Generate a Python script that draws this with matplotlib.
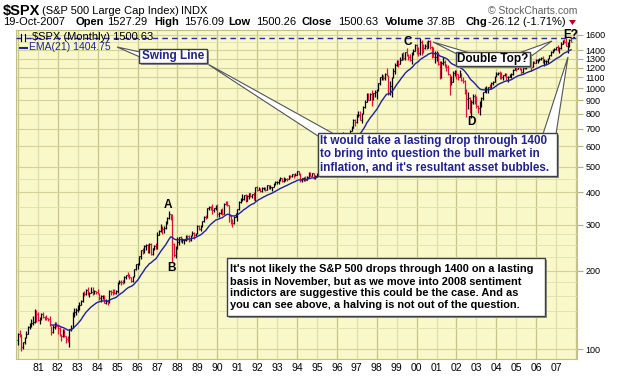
## ############################################################################################# ##
## $SPX monthly bar chart with EMA(21) and callouts
## ############################################################################################# ##
import numpy                   as     np
import matplotlib
matplotlib.use('Agg')
import matplotlib.pyplot       as     plt
from   matplotlib.patches      import Rectangle, Polygon
from   matplotlib.lines        import Line2D

plt.rcParams['font.family'] = ['Liberation Sans', 'DejaVu Sans']

## ********************************************************************************************* ##
## Data (monthly, Jan 1980 .. Oct 2007)
## ********************************************************************************************* ##
first_open     = 107.94
closes         = [
    114.16, 113.66, 102.09, 106.29, 111.24, 114.24, 121.67, 122.38, 125.46, 127.47, 140.52, 135.76,   # 1980
    129.55, 131.27, 136.00, 132.81, 132.59, 131.21, 130.92, 122.79, 116.18, 121.89, 126.35, 122.55,   # 1981
    120.40, 113.11, 111.96, 116.44, 111.88, 109.61, 107.09, 119.51, 120.42, 133.71, 138.54, 140.64,   # 1982
    145.30, 148.06, 152.96, 164.42, 162.39, 168.11, 162.56, 164.40, 166.07, 163.55, 166.40, 164.93,   # 1983
    163.41, 157.06, 159.18, 160.05, 150.55, 153.18, 150.66, 166.68, 166.10, 166.09, 163.58, 167.24,   # 1984
    179.63, 181.18, 180.66, 179.83, 189.55, 191.85, 190.92, 188.63, 182.08, 189.82, 202.17, 211.28,   # 1985
    211.78, 226.92, 238.90, 235.52, 247.35, 250.84, 236.12, 252.93, 231.32, 243.98, 249.22, 242.17,   # 1986
    274.08, 284.20, 291.70, 288.36, 290.10, 304.00, 318.66, 329.80, 321.83, 251.79, 230.30, 247.08,   # 1987
    257.07, 267.82, 258.89, 261.33, 262.16, 273.50, 272.02, 261.52, 271.91, 278.97, 273.70, 277.72,   # 1988
    297.47, 288.86, 294.87, 309.64, 320.52, 317.98, 346.08, 351.45, 349.15, 340.36, 345.99, 353.40,   # 1989
    329.08, 331.89, 339.94, 330.80, 361.23, 358.02, 356.15, 322.56, 306.05, 304.00, 322.22, 330.22,   # 1990
    343.93, 367.07, 375.22, 375.35, 389.83, 371.16, 387.81, 395.43, 387.86, 392.46, 375.22, 417.09,   # 1991
    408.79, 412.70, 403.69, 414.95, 415.35, 408.14, 424.21, 414.03, 417.80, 418.68, 431.35, 435.71,   # 1992
    438.78, 443.38, 451.67, 440.19, 450.19, 450.53, 448.13, 463.56, 458.93, 467.83, 461.79, 466.45,   # 1993
    481.61, 467.14, 445.77, 450.91, 456.50, 444.27, 458.26, 475.49, 462.69, 472.35, 453.69, 459.27,   # 1994
    470.42, 487.39, 500.71, 514.71, 533.40, 544.75, 562.06, 561.88, 584.41, 581.50, 605.37, 615.93,   # 1995
    636.02, 640.43, 645.50, 654.17, 669.12, 670.63, 639.95, 651.99, 687.33, 705.27, 757.02, 740.74,   # 1996
    786.16, 790.82, 757.12, 801.34, 848.28, 885.14, 954.29, 899.47, 947.28, 914.62, 955.40, 970.43,   # 1997
    980.28, 1049.34, 1101.75, 1111.75, 1090.82, 1133.84, 1120.67, 957.28, 1017.01, 1098.67, 1163.63, 1229.23,   # 1998
    1279.64, 1238.33, 1286.37, 1335.18, 1301.84, 1372.71, 1328.72, 1320.41, 1282.71, 1362.93, 1388.91, 1469.25, # 1999
    1394.46, 1366.42, 1498.58, 1452.43, 1420.60, 1454.60, 1430.83, 1517.68, 1436.51, 1429.40, 1314.95, 1320.28, # 2000
    1366.01, 1239.94, 1160.33, 1249.46, 1255.82, 1224.42, 1211.23, 1133.58, 1040.94, 1059.78, 1139.45, 1148.08, # 2001
    1130.20, 1106.73, 1147.39, 1076.92, 1067.14, 989.82, 911.62, 916.07, 815.28, 885.76, 936.31, 879.82,        # 2002
    855.70, 841.15, 848.18, 916.92, 963.59, 974.50, 990.31, 1008.01, 995.97, 1050.71, 1058.20, 1111.92,         # 2003
    1131.13, 1144.94, 1126.21, 1107.30, 1120.68, 1140.84, 1101.72, 1104.24, 1114.58, 1130.20, 1173.82, 1211.92, # 2004
    1181.27, 1203.60, 1180.59, 1156.85, 1191.50, 1191.33, 1234.18, 1220.33, 1228.81, 1207.01, 1249.48, 1248.29, # 2005
    1280.08, 1280.66, 1294.83, 1310.61, 1270.09, 1270.20, 1276.66, 1303.82, 1335.85, 1377.94, 1400.63, 1418.30, # 2006
    1438.24, 1406.82, 1420.86, 1482.37, 1530.62, 1503.35, 1455.27, 1473.99, 1526.75, 1500.63]                   # 2007
highs          = [
    115.2, 118.4, 114.3, 106.5, 111.6, 117.2, 122.4, 126.0, 130.4, 133.7, 141.9, 141.0,
    138.1, 132.5, 137.4, 138.4, 133.9, 134.9, 132.1, 133.9, 123.0, 123.2, 127.0, 126.5,
    123.9, 121.6, 113.9, 119.3, 119.5, 112.5, 112.4, 119.9, 124.1, 138.1, 143.6, 143.7,
    146.9, 150.9, 153.7, 164.9, 167.0, 170.6, 172.7, 165.3, 172.7, 173.0, 168.4, 167.2,
    169.5, 163.9, 160.5, 161.1, 161.3, 155.1, 153.9, 167.9, 169.1, 169.6, 170.4, 168.9,
    180.3, 183.9, 183.9, 183.4, 190.3, 192.2, 196.7, 193.3, 189.1, 190.1, 203.0, 212.0,
    213.3, 227.5, 239.4, 244.7, 250.4, 251.8, 253.2, 254.2, 254.3, 244.8, 251.0, 254.9,
    280.9, 285.5, 301.9, 297.3, 296.1, 309.3, 320.9, 337.9, 330.1, 328.9, 255.8, 248.4,
    268.7, 268.4, 271.4, 265.6, 263.2, 274.1, 273.6, 274.5, 272.6, 283.7, 280.0, 279.8,
    297.8, 300.0, 298.9, 310.0, 323.0, 327.1, 346.6, 354.7, 352.4, 360.4, 346.8, 357.9,
    360.6, 336.1, 344.5, 347.3, 362.3, 368.9, 369.8, 358.2, 326.6, 315.1, 323.0, 331.6,
    344.7, 370.1, 378.1, 393.3, 390.7, 391.5, 391.0, 396.6, 397.2, 394.0, 398.8, 418.3,
    420.8, 418.6, 413.2, 418.8, 419.4, 416.4, 424.8, 425.1, 423.9, 419.7, 432.3, 441.3,
    442.6, 450.3, 456.7, 451.7, 455.6, 453.5, 451.2, 464.0, 463.6, 470.4, 468.6, 471.3,
    482.9, 482.9, 471.1, 453.1, 458.5, 462.0, 459.3, 476.1, 476.3, 474.0, 473.6, 465.0,
    472.5, 489.3, 503.2, 515.2, 535.0, 551.1, 564.2, 565.6, 586.6, 590.7, 608.3, 622.9,
    637.6, 664.2, 657.0, 656.7, 678.5, 674.9, 673.3, 666.3, 690.9, 714.0, 761.0, 762.1,
    794.7, 817.7, 814.9, 804.1, 851.9, 899.0, 959.1, 961.3, 962.4, 983.1, 961.0, 986.3,
    992.7, 1051.5, 1105.7, 1130.5, 1123.0, 1141.0, 1190.6, 1121.4, 1066.1, 1106.6, 1192.9, 1244.9,
    1280.4, 1284.1, 1316.6, 1362.8, 1375.8, 1372.9, 1420.3, 1351.2, 1357.7, 1373.2, 1408.2, 1473.1,
    1478.0, 1444.6, 1552.9, 1527.2, 1481.5, 1474.6, 1517.3, 1525.2, 1530.1, 1454.8, 1438.5, 1389.1,
    1383.4, 1376.4, 1267.4, 1269.3, 1315.9, 1286.6, 1239.8, 1226.3, 1135.5, 1110.6, 1163.4, 1173.0,
    1176.6, 1130.2, 1173.9, 1147.8, 1106.6, 1070.7, 994.5, 965.0, 924.0, 900.9, 954.3, 954.3,
    935.0, 864.6, 895.9, 924.2, 965.4, 1015.3, 1015.4, 1011.0, 1040.3, 1053.8, 1063.7, 1112.6,
    1155.4, 1159.0, 1163.2, 1150.6, 1127.7, 1146.3, 1146.2, 1109.7, 1131.5, 1142.1, 1188.5, 1217.9,
    1217.8, 1212.4, 1229.1, 1191.9, 1199.6, 1219.6, 1245.1, 1245.9, 1243.1, 1233.3, 1270.6, 1275.8,
    1294.9, 1297.6, 1310.9, 1318.2, 1326.7, 1290.7, 1280.4, 1306.7, 1340.3, 1389.5, 1407.9, 1431.8,
    1441.6, 1461.6, 1438.9, 1498.0, 1535.6, 1540.6, 1555.9, 1503.9, 1538.7, 1576.1]
lows           = [
    103.3, 111.1, 98.2, 100.0, 104.7, 110.5, 113.9, 119.8, 121.9, 124.1, 126.3, 127.4,
    128.6, 124.7, 129.8, 131.4, 128.9, 129.0, 128.2, 122.3, 112.8, 115.4, 119.4, 121.7,
    114.6, 112.3, 107.3, 111.3, 111.3, 105.5, 106.5, 102.2, 117.7, 120.4, 133.0, 134.9,
    138.3, 140.6, 147.6, 151.8, 160.3, 161.8, 161.5, 158.7, 163.7, 161.5, 161.9, 162.6,
    162.6, 153.8, 151.9, 155.0, 150.3, 148.9, 147.3, 150.1, 161.8, 161.4, 162.5, 161.9,
    163.4, 177.6, 176.5, 177.4, 178.4, 185.5, 189.6, 186.1, 180.2, 181.2, 189.0, 200.9,
    203.5, 210.6, 222.4, 232.3, 232.9, 239.6, 233.8, 233.0, 228.7, 229.9, 240.7, 241.3,
    241.9, 272.6, 280.0, 276.5, 277.9, 288.7, 302.0, 314.6, 312.4, 216.5, 225.0, 223.9,
    242.6, 251.1, 256.2, 254.8, 252.6, 260.4, 262.7, 256.3, 260.5, 271.2, 264.4, 270.8,
    275.3, 286.9, 284.7, 292.8, 307.4, 315.0, 316.7, 340.2, 340.1, 328.8, 336.0, 342.3,
    319.8, 321.8, 330.1, 326.0, 329.1, 355.8, 352.4, 306.0, 300.3, 294.5, 301.9, 322.0,
    309.4, 341.9, 362.7, 370.3, 373.7, 367.8, 370.5, 377.7, 383.6, 379.7, 373.6, 371.0,
    403.4, 405.7, 401.0, 399.6, 408.7, 401.9, 407.3, 410.4, 412.1, 402.7, 416.9, 427.4,
    428.7, 430.4, 441.1, 435.8, 436.9, 441.2, 441.4, 447.2, 452.3, 457.6, 454.4, 461.2,
    464.6, 465.6, 436.2, 435.9, 439.4, 442.5, 443.4, 455.7, 460.6, 460.7, 449.0, 450.7,
    457.2, 468.9, 481.5, 500.2, 511.7, 530.7, 544.2, 553.7, 561.0, 573.6, 580.0, 599.3,
    597.3, 631.2, 627.6, 624.1, 643.3, 659.0, 605.9, 637.5, 649.4, 682.7, 702.7, 716.0,
    737.0, 773.4, 755.4, 733.5, 797.9, 838.0, 884.1, 898.6, 898.1, 855.3, 901.1, 926.5,
    912.8, 979.9, 1032.4, 1076.7, 1074.4, 1074.7, 1114.3, 939.0, 939.9, 923.3, 1098.0, 1132.9,
    1212.2, 1211.4, 1235.9, 1282.5, 1281.4, 1279.6, 1324.0, 1281.9, 1268.4, 1233.7, 1343.9, 1387.4,
    1350.1, 1325.1, 1346.6, 1339.4, 1361.1, 1415.0, 1416.5, 1430.8, 1419.4, 1305.8, 1312.7, 1254.1,
    1274.6, 1228.0, 1081.2, 1091.9, 1232.0, 1203.0, 1165.5, 1124.9, 944.8, 1026.8, 1054.3, 1114.3,
    1081.7, 1074.4, 1106.7, 1063.5, 1048.9, 952.9, 775.7, 833.4, 800.2, 768.6, 872.9, 869.5,
    840.3, 806.3, 788.9, 847.9, 902.8, 963.0, 962.1, 960.8, 990.4, 995.9, 1031.2, 1053.4,
    1105.1, 1124.4, 1087.1, 1083.3, 1076.3, 1113.3, 1078.8, 1060.7, 1101.3, 1090.2, 1127.6, 1173.4,
    1163.8, 1180.1, 1176.9, 1136.2, 1146.2, 1188.3, 1183.6, 1201.1, 1201.1, 1168.2, 1201.1, 1246.6,
    1245.7, 1253.6, 1268.4, 1280.7, 1245.3, 1219.3, 1224.5, 1253.9, 1290.9, 1327.1, 1360.1, 1385.9,
    1403.0, 1389.4, 1364.0, 1416.4, 1476.7, 1484.2, 1454.3, 1370.6, 1439.3, 1500.26]

year_ticks     = list(range(1981, 2008))
year_labels    = ['%02d' % (y % 100) for y in year_ticks]
ytick_vals     = [100, 200, 300, 400, 500, 600, 700, 800, 900, 1000, 1100, 1200, 1300, 1400, 1600]
ygrid_minor    = [120, 140, 160, 180, 225, 250, 275, 350, 450, 1500]
ema_period     = 21
top_line       = 1552.87

## ********************************************************************************************* ##
## Figure helpers (pixel coords, y from top)
## ********************************************************************************************* ##
W, H           = 620, 376
fig            = plt.figure(figsize=(W/100, H/100), dpi=100)
fig.patch.set_facecolor('white')

def P(x, y):
    return (x/W, 1 - y/H)

def ftext(x, y, s, **kw):
    fx, fy     = P(x, y)
    fig.text(fx, fy, s, **kw)

def box(x0, y0, x1, y1):
    fig.add_artist(Rectangle(P(x0+2, y1+2), (x1-x0)/W, (y1-y0)/H, fc='#909090', ec='none',
                             transform=fig.transFigure, zorder=5))
    fig.add_artist(Rectangle(P(x0, y1), (x1-x0)/W, (y1-y0)/H, fc='white', ec='#404040', lw=1,
                             transform=fig.transFigure, zorder=6))

def tail(apex, b1, b2):
    fig.add_artist(Polygon([P(*apex), P(*b1), P(*b2)], closed=True, fc='white', ec='#555555',
                           lw=0.8, transform=fig.transFigure, zorder=4))

## ********************************************************************************************* ##
## Price panel
## ********************************************************************************************* ##
ax             = fig.add_axes([16/W, 1-359/H, (577-16)/W, (359-30)/H])
ax.set_facecolor('#F8F8C8')
ax.set_yscale('log')
ax.set_xlim(1979.9, 2008.05)
ax.set_ylim(91.6, 1672)

n              = len(closes)
t              = 1980 + np.arange(n)/12.0
c              = np.array(closes)
o              = np.array([first_open] + closes[:-1])
cols           = np.where(c < o, '#E0103C', '#000000')

# grid
for yr in range(1980, 2009):
    ax.axvline(yr, color='#C6C68A' if yr % 2 == 0 else '#DEDEAA', lw=0.9, zorder=0)
for v in ytick_vals:
    ax.axhline(v, color='#D2D29A', lw=0.8, zorder=0)
for v in ygrid_minor:
    ax.axhline(v, color='#E2E2B2', lw=0.7, zorder=0)

ax.vlines(t, lows, highs, colors=cols, lw=0.9, zorder=3)
ax.hlines(o, t-0.035, t, colors=cols, lw=0.8, zorder=3)
ax.hlines(c, t, t+0.035, colors=cols, lw=0.8, zorder=3)

# EMA(21), seeded with simple average
k              = 2.0/(ema_period+1)
ema            = np.full(n, np.nan)
ema[ema_period-1] = c[:ema_period].mean()
for i in range(ema_period, n):
    ema[i]     = ema[i-1] + k*(c[i]-ema[i-1])
ax.plot(t, ema, color='#1E22A0', lw=1.0, zorder=4)

ax.axhline(top_line, color='#2030A0', lw=1.0, ls=(0, (4, 3)), zorder=4)

ax.yaxis.tick_right()
ax.set_yticks(ytick_vals)
ax.set_yticklabels([str(v) for v in ytick_vals])
ax.minorticks_off()
ax.set_xticks(year_ticks)
ax.set_xticklabels(year_labels)
ax.tick_params(axis='y', length=4, color='#B0B080', labelsize=6.5, pad=2)
ax.tick_params(axis='x', length=0, labelsize=7.5, pad=3)
for s in ax.spines.values():
    s.set_color('#C0C080')

## ********************************************************************************************* ##
## Header
## ********************************************************************************************* ##
ftext(3, 11, '$SPX', fontsize=10.5, fontweight='bold', va='center')
ftext(42, 11, '(S&P 500 Large Cap Index)', fontsize=8, va='center')
ftext(181, 11, 'INDX', fontsize=8, va='center')
ftext(577, 11, '© StockCharts.com', fontsize=7.5, va='center', ha='right', color='#606060')
header2        = [(3, '19-Oct-2007', False), (76, 'Open', True), (107, '1527.29', False),
                  (154, 'High', True), (184, '1576.09', False), (228, 'Low', True),
                  (256, '1500.26', False), (302, 'Close', True), (338, '1500.63', False),
                  (385, 'Volume', True), (427, '37.8B', False), (466, 'Chg', True),
                  (488, '-26.12 (-1.71%)', False)]
for x, s, b in header2:
    ftext(x, 22, s, fontsize=8, va='center', fontweight='bold' if b else 'normal')
fig.add_artist(Polygon([P(569, 20), P(576, 20), P(572.5, 25)], closed=True, fc='#C00020',
                       ec='none', transform=fig.transFigure))

## legend
fig.add_artist(Line2D([21/W, 21/W], [1-34/H, 1-41/H], color='black', lw=0.8, transform=fig.transFigure))
fig.add_artist(Line2D([25/W, 25/W], [1-34/H, 1-41/H], color='black', lw=0.8, transform=fig.transFigure))
ftext(32, 37.5, '$SPX (Monthly) 1500.63', fontsize=8, va='center', zorder=3)
fig.add_artist(Line2D([20/W, 27/W], [1-47.5/H, 1-47.5/H], color='#1E22A0', lw=1.5, transform=fig.transFigure))
ftext(29, 47.5, 'EMA(21) 1404.75', fontsize=7.5, va='center', color='#1E22A0')

## ********************************************************************************************* ##
## Callouts
## ********************************************************************************************* ##
navy           = '#22228C'
tail((117, 47), (140, 52), (140, 57))
tail((206, 63), (318, 136), (334, 134))
tail((568, 57), (543, 134), (556, 134))
tail((433, 42), (457, 54), (470, 53))
tail((552, 41), (519, 53), (530, 57))

box(139, 49, 207, 63)
ftext(173, 56, 'Swing Line', fontsize=8.5, fontweight='bold', color=navy, ha='center', va='center', zorder=7)

box(456, 52, 530, 66)
ftext(493, 59, 'Double Top?', fontsize=8.5, fontweight='bold', color='black', ha='center', va='center', zorder=7)

box(318, 133, 557, 176)
ftext(320, 154.5, 'It would take a lasting drop through 1400\nto bring into question the bull market in\n'
      'inflation, and it\'s resultant asset bubbles.', fontsize=8.4, fontweight='bold', color=navy,
      ha='left', va='center', linespacing=1.2, zorder=7)

box(227, 258, 545, 316)
ftext(230, 287, 'It\'s not likely the S&P 500 drops through 1400 on a lasting\n'
      'basis in November, but as we move into 2008 sentiment\n'
      'indictors are suggestive this could be the case. And as\n'
      'you can see above, a halving is not out of the question.', fontsize=7.9, fontweight='bold',
      color='black', ha='left', va='center', linespacing=1.22, zorder=7)

for x, y, s in [(168, 205, 'A'), (172, 268, 'B'), (408, 42, 'C'), (471, 122, 'D'), (571, 35, 'E?')]:
    ftext(x, y, s, fontsize=8.5, fontweight='bold', ha='center', va='center', zorder=7)

fig.savefig('out.png', dpi=100)
